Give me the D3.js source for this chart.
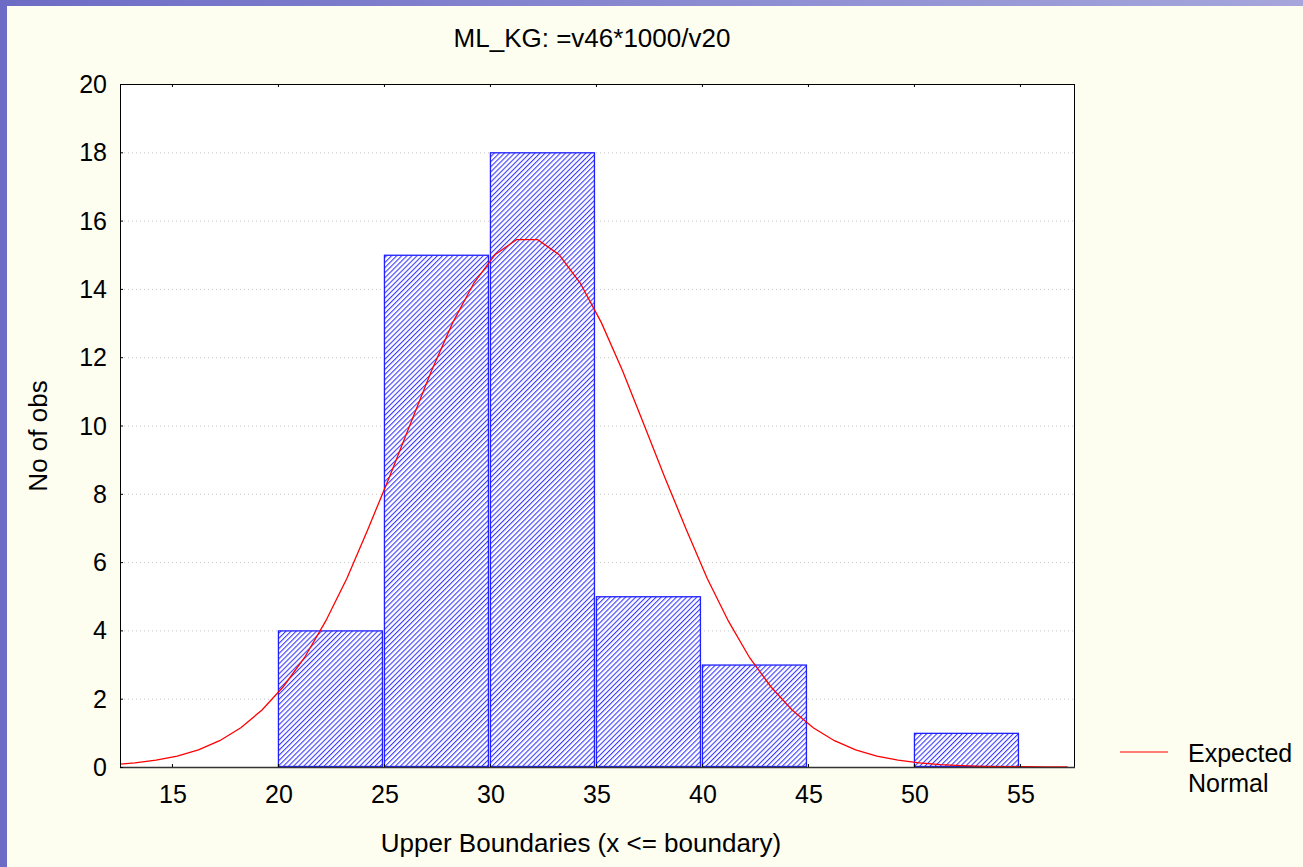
<!DOCTYPE html>
<html>
<head>
<meta charset="utf-8">
<script src="https://cdn.jsdelivr.net/npm/d3@7"></script>
<style>
  body { margin: 0; padding: 0; overflow: hidden; }
  text { font-family: "Liberation Sans", Arial, sans-serif; fill: #000; }
</style>
</head>
<body>
<svg id="chart" width="1303" height="867"></svg>
<script>
// histogram bins (lower, upper boundary) and counts
var binLower = [15, 20, 25, 30, 35, 40, 45, 50];
var binUpper = [20, 25, 30, 35, 40, 45, 50, 55];
var binCounts = [0, 4, 15, 18, 5, 3, 0, 1];

// expected normal curve
var curveX = [12.25, 13.25, 14.25, 15.25, 16.25, 17.25, 18.25, 19.25, 20.25, 21.25,
  22.25, 23.25, 24.25, 25.25, 26.25, 27.25, 28.25, 29.25, 30.25, 31.25,
  32.25, 33.25, 34.25, 35.25, 36.25, 37.25, 38.25, 39.25, 40.25, 41.25,
  42.25, 43.25, 44.25, 45.25, 46.25, 47.25, 48.25, 49.25, 50.25, 51.25,
  52.25, 53.25, 54.25, 55.25, 56.25, 57.25];
var curveY = [0.07, 0.12, 0.20, 0.32, 0.50, 0.77, 1.15, 1.67, 2.35, 3.20,
  4.27, 5.52, 6.97, 8.48, 10.05, 11.61, 13.02, 14.18, 15.01, 15.44,
  15.44, 15.01, 14.18, 13.02, 11.61, 10.05, 8.48, 6.97, 5.52, 4.27,
  3.20, 2.35, 1.67, 1.15, 0.77, 0.50, 0.32, 0.20, 0.12, 0.07,
  0.04, 0.02, 0.01, 0.01, 0.00, 0.00];

var xTicks = [15, 20, 25, 30, 35, 40, 45, 50, 55];
var yTicks = [0, 2, 4, 6, 8, 10, 12, 14, 16, 18, 20];

var title = "ML_KG: =v46*1000/v20";
var xTitle = "Upper Boundaries (x <= boundary)";
var yTitle = "No of obs";
var legendText = ["Expected", "Normal"];

var W = 1303, H = 867;
var plot = { left: 120, top: 84, right: 1074, bottom: 767 };

var svg = d3.select("#chart");

// background: blue slide strip + yellow panel
var defs = svg.append("defs");
var grad = defs.append("linearGradient").attr("id", "bgGrad")
  .attr("x1", 0).attr("y1", 0).attr("x2", 1).attr("y2", 0);
grad.append("stop").attr("offset", 0).attr("stop-color", "#6c6cc6");
grad.append("stop").attr("offset", 1).attr("stop-color", "#a6a6dc");
svg.append("rect").attr("width", W).attr("height", H).attr("fill", "url(#bgGrad)");
svg.append("rect").attr("x", 7).attr("y", 6).attr("width", W - 7).attr("height", H - 6)
  .attr("fill", "#fefef0");

// hatch pattern for bars
var pat = defs.append("pattern").attr("id", "hatch")
  .attr("patternUnits", "userSpaceOnUse")
  .attr("width", 3.6).attr("height", 3.6)
  .attr("patternTransform", "rotate(45)");
pat.append("rect").attr("width", 3.6).attr("height", 3.6).attr("fill", "#ffffff");
pat.append("line").attr("x1", 0).attr("y1", 0).attr("x2", 0).attr("y2", 3.6)
  .attr("stroke", "#3a3aff").attr("stroke-width", 2.2);

defs.append("clipPath").attr("id", "plotClip").append("rect")
  .attr("x", plot.left).attr("y", plot.top)
  .attr("width", plot.right - plot.left).attr("height", plot.bottom - plot.top);

var x = d3.scaleLinear().domain([12.55, 57.55]).range([plot.left, plot.right]);
var y = d3.scaleLinear().domain([0, 20]).range([plot.bottom, plot.top]);

// plot area
svg.append("rect")
  .attr("x", plot.left).attr("y", plot.top)
  .attr("width", plot.right - plot.left).attr("height", plot.bottom - plot.top)
  .attr("fill", "#ffffff");

// dotted gridlines
svg.append("g").selectAll("line")
  .data(yTicks.filter(function (d) { return d > 0 && d < 20; }))
  .join("line")
  .attr("x1", plot.left).attr("x2", plot.right)
  .attr("y1", function (d) { return y(d) + 0.5; })
  .attr("y2", function (d) { return y(d) + 0.5; })
  .attr("stroke", "#c8c8c8").attr("stroke-width", 1)
  .attr("stroke-dasharray", "1,3");

// bars
var bins = binCounts.map(function (c, i) { return { lo: binLower[i], hi: binUpper[i], n: c }; });
svg.append("g").selectAll("rect")
  .data(bins)
  .join("rect")
  .attr("x", function (d) { return x(d.lo) + 0.5; })
  .attr("y", function (d) { return y(d.n) + 0.5; })
  .attr("width", function (d) { return x(d.hi) - x(d.lo) - 2; })
  .attr("height", function (d) { return Math.max(0, y(0) - y(d.n) - 1); })
  .attr("fill", "url(#hatch)")
  .attr("stroke", "#2020ff").attr("stroke-width", 1.3);

// expected normal curve
var pts = curveX.map(function (v, i) { return [v, curveY[i]]; });
svg.append("path")
  .datum(pts)
  .attr("clip-path", "url(#plotClip)")
  .attr("d", d3.line().x(function (d) { return x(d[0]); }).y(function (d) { return y(d[1]); }))
  .attr("fill", "none")
  .attr("stroke", "#ff0000").attr("stroke-width", 1.3);

// frame
svg.append("rect")
  .attr("x", plot.left + 0.5).attr("y", plot.top + 0.5)
  .attr("width", plot.right - plot.left).attr("height", plot.bottom - plot.top)
  .attr("fill", "none").attr("stroke", "#000").attr("stroke-width", 1);
svg.append("line")
  .attr("x1", plot.left).attr("x2", plot.right + 1)
  .attr("y1", plot.bottom + 0.5).attr("y2", plot.bottom + 0.5)
  .attr("stroke", "#333").attr("stroke-width", 1.5);

// tick marks
var tk = svg.append("g").attr("stroke", "#000").attr("stroke-width", 1);
xTicks.forEach(function (t) {
  tk.append("line").attr("x1", x(t) + 0.5).attr("x2", x(t) + 0.5)
    .attr("y1", plot.bottom).attr("y2", plot.bottom - 3);
  tk.append("line").attr("x1", x(t) + 0.5).attr("x2", x(t) + 0.5)
    .attr("y1", plot.top).attr("y2", plot.top + 3);
});
yTicks.forEach(function (t) {
  tk.append("line").attr("x1", plot.left).attr("x2", plot.left + 3)
    .attr("y1", y(t) + 0.5).attr("y2", y(t) + 0.5);
});

// tick labels
svg.append("g").selectAll("text")
  .data(yTicks)
  .join("text")
  .attr("x", 107)
  .attr("y", function (d) { return y(d); })
  .attr("dy", "0.36em")
  .attr("text-anchor", "end")
  .attr("font-size", 25)
  .text(function (d) { return d; });

svg.append("g").selectAll("text")
  .data(xTicks)
  .join("text")
  .attr("x", function (d) { return x(d) + 1; })
  .attr("y", 803)
  .attr("text-anchor", "middle")
  .attr("font-size", 25)
  .text(function (d) { return d; });

// titles
svg.append("text").attr("x", 592).attr("y", 47)
  .attr("text-anchor", "middle").attr("font-size", 26).text(title);
svg.append("text").attr("x", 581).attr("y", 852)
  .attr("text-anchor", "middle").attr("font-size", 26).text(xTitle);
svg.append("text")
  .attr("transform", "translate(47,436) rotate(-90)")
  .attr("text-anchor", "middle").attr("font-size", 26).text(yTitle);

// legend
svg.append("line").attr("x1", 1120).attr("x2", 1168)
  .attr("y1", 752).attr("y2", 752)
  .attr("stroke", "#ff0000").attr("stroke-width", 1.2);
svg.append("g").selectAll("text")
  .data(legendText)
  .join("text")
  .attr("x", 1188)
  .attr("y", function (d, i) { return 762 + i * 30; })
  .attr("font-size", 25)
  .text(function (d) { return d; });
</script>
</body>
</html>
